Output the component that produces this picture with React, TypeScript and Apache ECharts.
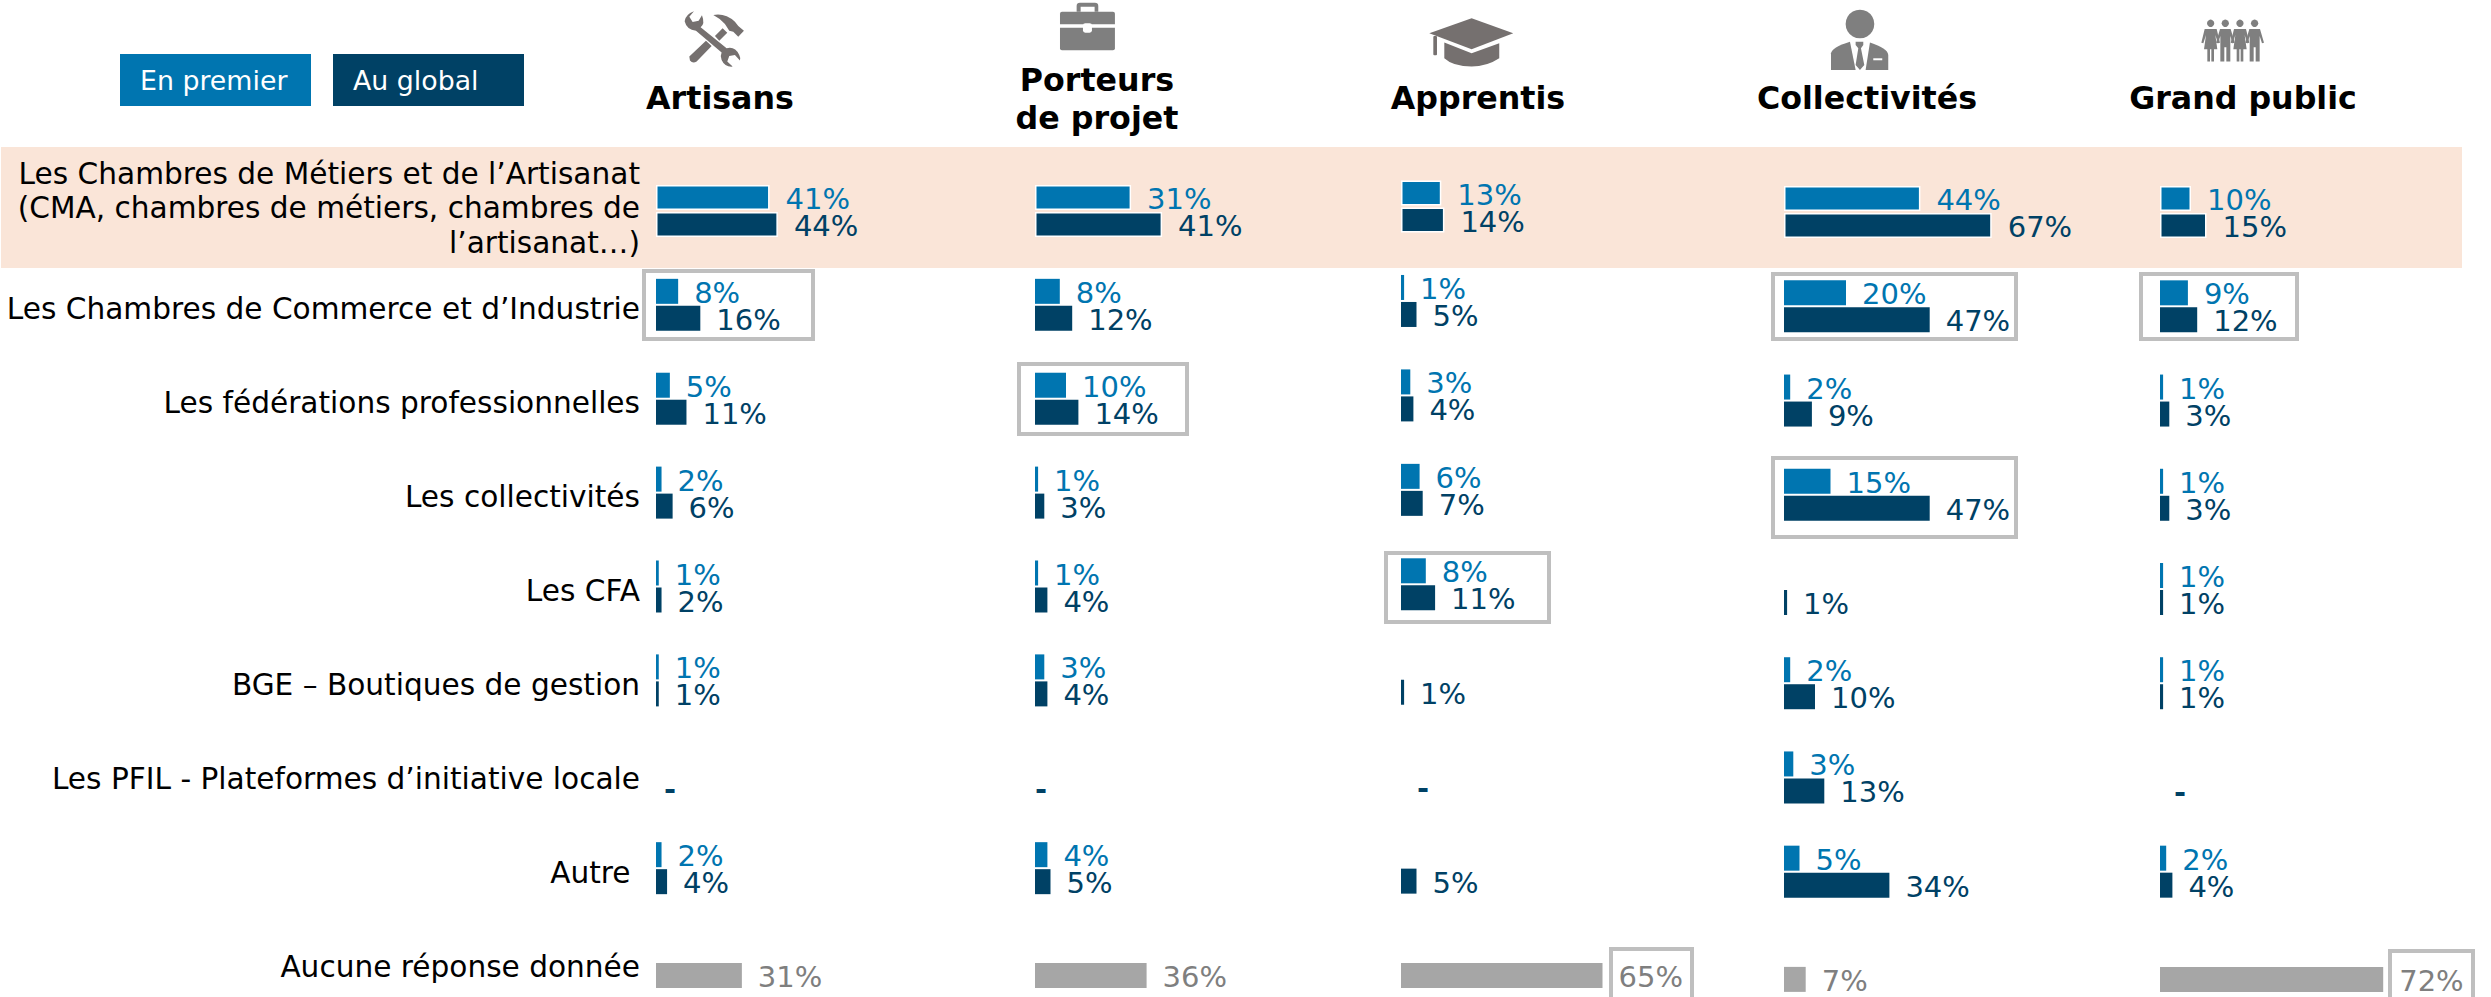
import React, { useEffect, useRef } from "react";
import * as echarts from "echarts";

const FONT = '"DejaVu Sans"';
const BLUE = "#0075B0";
const NAVY = "#004165";
const GREY_BAR = "#A6A6A6";
const GREY_TEXT = "#7F7F7F";
const BOX = "#BFBFBF";
const ICON = "#7F7F7F";
const ICON_DARK = "#75706F";

const categories = [
  "Les Chambres de Métiers et de l’Artisanat\n(CMA, chambres de métiers, chambres de\nl’artisanat…)",
  "Les Chambres de Commerce et d’Industrie",
  "Les fédérations professionnelles",
  "Les collectivités",
  "Les CFA",
  "BGE – Boutiques de gestion",
  "Les PFIL - Plateformes d’initiative locale",
  "Autre\u00A0",
  "Aucune réponse donnée",
];

const legendNames = ["En premier", "Au global"];

// 0 = shown as a dash, null = nothing shown. The last row holds "Aucune réponse donnée".
const artisansFirst = [41, 8, 5, 2, 1, 1, null, 2, null];
const artisansGlobal = [44, 16, 11, 6, 2, 1, 0, 4, 31];
const porteursFirst = [31, 8, 10, 1, 1, 3, null, 4, null];
const porteursGlobal = [41, 12, 14, 3, 4, 4, 0, 5, 36];
const apprentisFirst = [13, 1, 3, 6, 8, null, null, null, null];
const apprentisGlobal = [14, 5, 4, 7, 11, 1, 0, 5, 65];
const collectivitesFirst = [44, 20, 2, 15, null, 2, 3, 5, null];
const collectivitesGlobal = [67, 47, 9, 47, 1, 10, 13, 34, 7];
const grandPublicFirst = [10, 9, 1, 1, 1, 1, null, 2, null];
const grandPublicGlobal = [15, 12, 3, 3, 1, 1, 0, 4, 72];

const columns = [
  { title: ["Artisans"], first: artisansFirst, global: artisansGlobal, left: 656, width: 277, top: 164, height: 845, cx: 720, dash: 8 },
  { title: ["Porteurs", "de projet"], first: porteursFirst, global: porteursGlobal, left: 1035, width: 310, top: 164, height: 845, cx: 1097, dash: 0 },
  { title: ["Apprentis"], first: apprentisFirst, global: apprentisGlobal, left: 1401, width: 310, top: 159.3, height: 850, cx: 1478, dash: 16 },
  { title: ["Collectivités"], first: collectivitesFirst, global: collectivitesGlobal, left: 1784, width: 310, top: 165, height: 848, cx: 1867, dash: 10 },
  { title: ["Grand public"], first: grandPublicFirst, global: grandPublicGlobal, left: 2160, width: 310, top: 165, height: 848, cx: 2243, dash: 14 },
];

// Highlight frames: [x, y, width, height]
const frames = [
  [644, 271, 169, 68],
  [1019, 364, 168, 70],
  [1386, 553, 163, 69],
  [1773, 274, 243, 65],
  [2141, 274, 156, 65],
  [1773, 458, 243, 79],
  [1611, 949, 81, 70],
  [2390, 951, 83, 70],
];

const shape = (name: string, d: string) =>
  echarts.graphic.registerShape(name, echarts.graphic.extendPath(d, {}));

shape("iconWrench", "M72 34 L58 50 L68 66 L86 62 L96 46 Q106 72 92 82 L170 145 Q195 138 208 165 Q212 172 210 182 L195 165 L178 168 L172 185 L188 200 Q165 202 155 180 Q150 168 155 158 L78 92 Q50 90 44 64 Q46 44 72 34 Z");
shape("iconHammer", "M58 170 L108 122 L125 138 L80 185 Q68 192 60 182 Z M135 108 L158 85 L172 98 L148 122 Z M130 45 Q165 38 195 65 L205 78 L222 92 L205 110 L190 95 L178 92 L165 72 Q150 55 130 45 Z");
shape("iconCaseHandle", "M95 35 L95 18 Q95 8 105 8 L150 8 Q160 8 160 18 L160 35 L149 35 L149 20 L107 20 L107 35 Z");
shape("iconCapBase", "M73 128 L155 160 L238 130 L238 175 Q200 200 155 200 Q100 200 73 175 Z");
shape("iconJacketLeft", "M48 210 L48 160 Q50 142 105 125 L122 210 Z");
shape("iconJacketRight", "M165 128 Q218 145 220 165 L220 210 L152 210 Z");
shape("iconTie", "M122 125 L145 125 L145 135 L138 145 L148 195 L135 210 L122 195 L130 145 L122 135 Z");
shape("iconWoman", "M-18 57 L18 57 L28 98 L22 100 L14 75 L20 118 L10 118 L10 155 L2 155 L2 118 L-2 118 L-2 155 L-10 155 L-10 118 L-20 118 L-14 75 L-22 100 L-28 98 Z");
shape("iconMan", "M-16 57 L16 57 L28 98 L22 100 L15 78 L15 155 L3 155 L3 112 L-3 112 L-3 155 L-15 155 L-15 78 L-22 100 L-28 98 Z");

const third = 1 / 3;
const icon = (x: number, y: number, children: any[]) => ({
  type: "group",
  x,
  y,
  scaleX: third,
  scaleY: third,
  children,
});
const fill = (type: string, color: string, extra: any = {}) => ({ type, style: { fill: color }, ...extra });

const icons = [
  icon(670, 0, [fill("iconHammer", ICON_DARK), fill("iconWrench", ICON_DARK)]),
  icon(1045, 0, [
    fill("iconCaseHandle", ICON),
    fill("rect", ICON, { shape: { x: 45, y: 35, width: 165, height: 38, r: [6, 6, 0, 0] } }),
    fill("rect", ICON, { shape: { x: 45, y: 83, width: 165, height: 68, r: [0, 0, 6, 6] } }),
    fill("rect", "#FFFFFF", { shape: { x: 114, y: 70, width: 27, height: 28, r: 7 } }),
  ]),
  icon(1420, 0, [
    fill("polygon", ICON_DARK, { shape: { points: [[28, 100], [155, 55], [280, 100], [155, 148]] } }),
    fill("rect", ICON_DARK, { shape: { x: 40, y: 108, width: 11, height: 58, r: 3 } }),
    fill("iconCapBase", ICON_DARK),
  ]),
  icon(1815, 0, [
    fill("circle", ICON, { shape: { cx: 135, cy: 72, r: 43 } }),
    fill("iconJacketLeft", ICON),
    fill("iconJacketRight", ICON),
    fill("iconTie", ICON),
    fill("rect", "#FFFFFF", { shape: { x: 175, y: 175, width: 27, height: 6 } }),
  ]),
  icon(2190, 10, [
    ...[62, 106, 150, 194].map((cx) => fill("circle", ICON, { shape: { cx, cy: 40, r: 11 } })),
    fill("iconWoman", ICON, { x: 62 }),
    fill("iconMan", ICON, { x: 106 }),
    fill("iconWoman", ICON, { x: 150 }),
    fill("iconMan", ICON, { x: 194 }),
  ]),
];

const text = (t: string, x: number, y: number, font: string, color: string, align = "center") => ({
  type: "text",
  style: { text: t, x, y, font, fill: color, textAlign: align, textVerticalAlign: "middle" },
});

function buildOption() {
  const grid: any[] = [];
  const xAxis: any[] = [];
  const yAxis: any[] = [];
  const series: any[] = [];

  columns.forEach((c, i) => {
    grid.push({ left: c.left, width: c.width, top: c.top, height: c.height, containLabel: false, outerBoundsMode: "none" });
    xAxis.push({ type: "value", gridIndex: i, min: 0, max: 100, show: false });
    yAxis.push({
      type: "category",
      gridIndex: i,
      inverse: true,
      data: categories,
      axisLine: { show: false },
      axisTick: { show: false },
      splitLine: { show: false },
      axisLabel: { show: false },
    });
    const common = {
      type: "bar",
      xAxisIndex: i,
      yAxisIndex: i,
      barWidth: 25,
      barGap: "8%",
      silent: true,
    };
    const labelBase = {
      show: true,
      position: "right",
      distance: 16,
      offset: [0, 1.5],
      fontFamily: FONT,
      fontSize: 29,
      lineHeight: 26,
      formatter: (p: any) => (p.value === 0 ? "-" : `${p.value}%`),
    };
    const firstRow = { borderColor: "#FFFFFF", borderWidth: 1.5 };
    series.push({
      ...common,
      name: legendNames[0],
      itemStyle: { color: BLUE },
      label: { ...labelBase, color: BLUE },
      data: c.first.map((v, r) => (r === 0 ? { value: v, itemStyle: { color: BLUE, ...firstRow } } : v)),
    });
    series.push({
      ...common,
      name: legendNames[1],
      itemStyle: { color: NAVY },
      label: { ...labelBase, color: NAVY },
      data: c.global.map((v, r) => {
        if (r === 0) return { value: v, itemStyle: { color: NAVY, ...firstRow } };
        if (r === categories.length - 1)
          return { value: v, itemStyle: { color: GREY_BAR }, label: { color: GREY_TEXT } };
        if (v === 0) return { value: v, label: { distance: c.dash, fontWeight: "bold" } };
        return v;
      }),
    });
  });

  // Two label-only axes: the three-line first row sits slightly higher than the single-line rows.
  const labelAxes = [
    { data: categories.slice(0, 1), top: 147, height: 122 },
    { data: categories.slice(1), top: 262, height: 751.5 },
  ];
  labelAxes.forEach((a) => {
    const gridIndex = grid.length;
    grid.push({ left: 656, width: 277, top: a.top, height: a.height, containLabel: false, outerBoundsMode: "none" });
    xAxis.push({ type: "value", gridIndex, min: 0, max: 100, show: false });
    yAxis.push({
      type: "category",
      gridIndex,
      inverse: true,
      data: a.data,
      axisLine: { show: false },
      axisTick: { show: false },
      splitLine: { show: false },
      axisLabel: { show: true, interval: 0, margin: 16, fontFamily: FONT, fontSize: 29.6, color: "#000000", lineHeight: 34.5, align: "right", verticalAlign: "middle", hideOverlap: false },
    });
  });

  const headers: any[] = [];
  columns.forEach((c) => {
    if (c.title.length === 1) {
      headers.push(text(c.title[0], c.cx, 98, `bold 31.7px ${FONT}`, "#000000"));
    } else {
      headers.push(text(c.title[0], c.cx, 80, `bold 31.7px ${FONT}`, "#000000"));
      headers.push(text(c.title[1], c.cx, 118, `bold 31.7px ${FONT}`, "#000000"));
    }
  });

  return {
    animation: false,
    backgroundColor: "#FFFFFF",
    grid,
    xAxis,
    yAxis,
    series,
    graphic: {
      elements: [
        { type: "rect", z: -10, shape: { x: 1, y: 147, width: 2461, height: 121 }, style: { fill: "#FAE5D8" } },
        { type: "rect", shape: { x: 120, y: 54, width: 191, height: 52 }, style: { fill: BLUE } },
        { type: "rect", shape: { x: 333, y: 54, width: 191, height: 52 }, style: { fill: NAVY } },
        text(legendNames[0], 140, 80, `26.8px ${FONT}`, "#FFFFFF", "left"),
        text(legendNames[1], 353, 80, `26.8px ${FONT}`, "#FFFFFF", "left"),
        ...frames.map(([x, y, width, height]) => ({
          type: "rect",
          shape: { x, y, width, height },
          style: { fill: "none", stroke: BOX, lineWidth: 4 },
        })),
        ...headers,
        ...icons,
      ],
    },
  };
}

export default function App() {
  const ref = useRef<HTMLDivElement>(null);
  useEffect(() => {
    document.body.style.margin = "0";
    const chart = echarts.init(ref.current!, undefined, { renderer: "svg" });
    chart.setOption(buildOption() as any);
    return () => chart.dispose();
  }, []);
  return <div ref={ref} style={{ width: 2491, height: 997 }} />;
}
